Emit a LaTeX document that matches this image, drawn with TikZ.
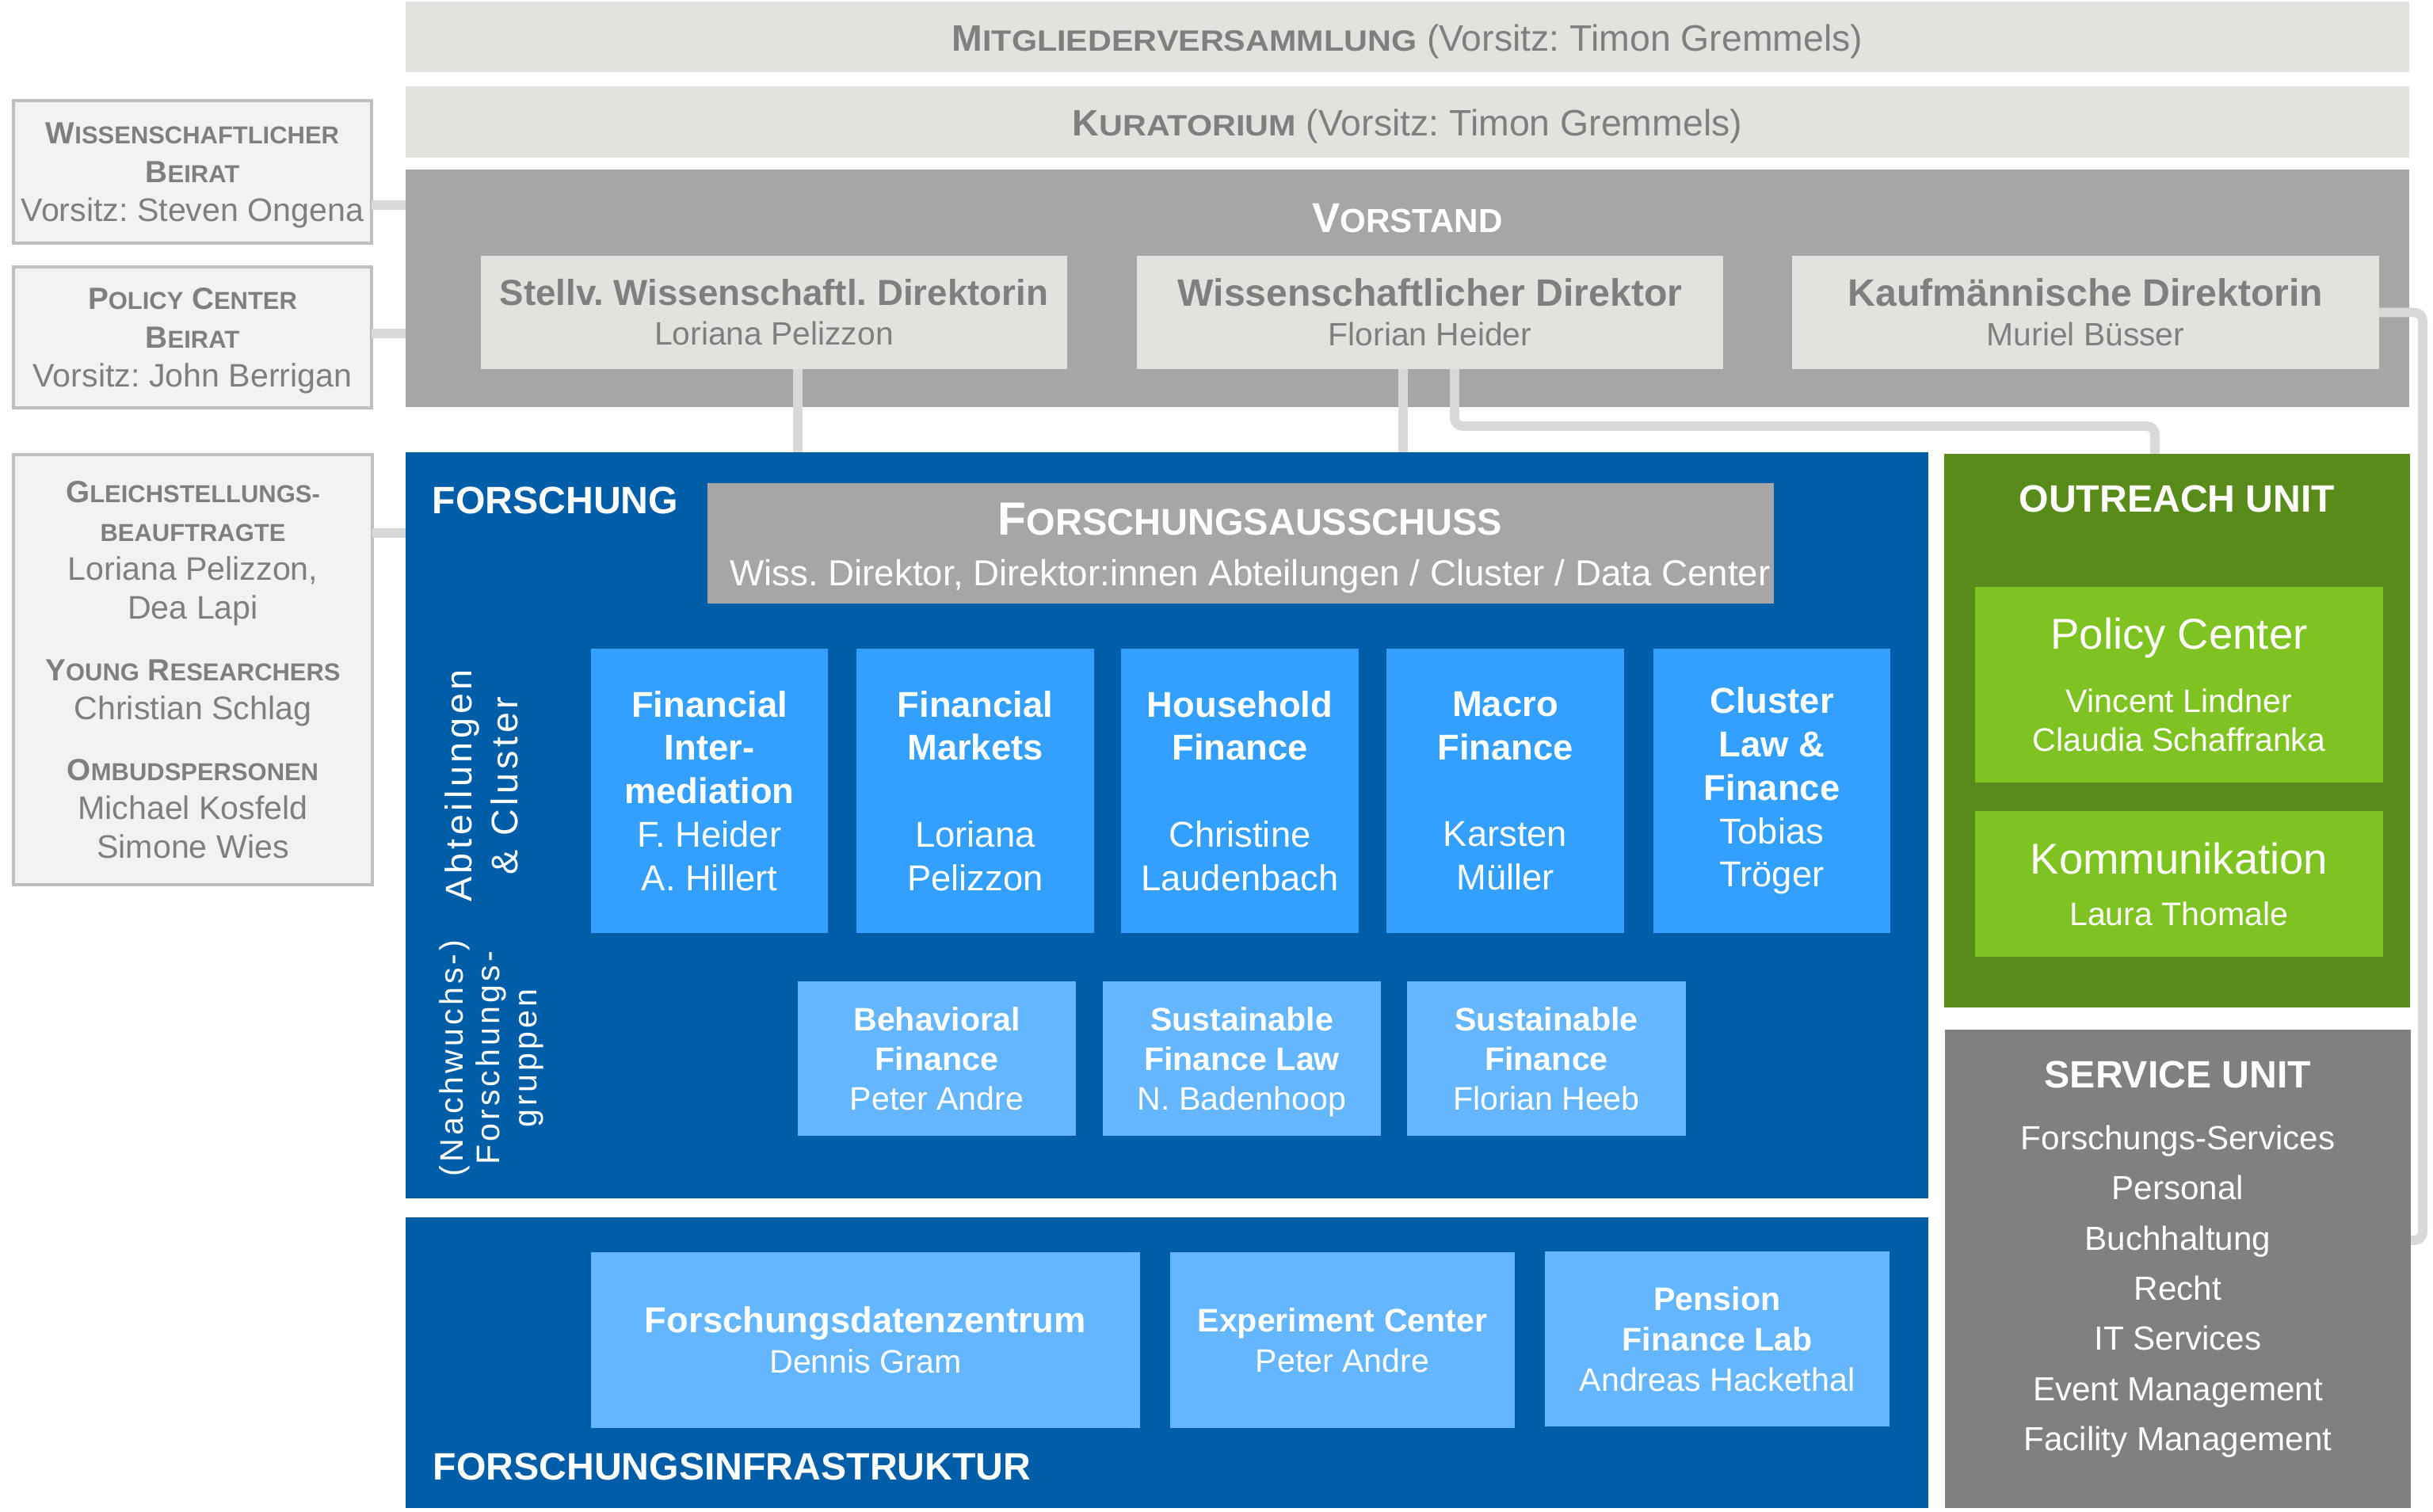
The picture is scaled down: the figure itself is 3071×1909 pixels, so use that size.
\documentclass[tikz,border=0pt]{standalone}
\usepackage{fontspec}
\setmainfont{Liberation Sans}
\usepackage{graphicx}
\frenchspacing

\definecolor{barfill}{HTML}{E3E2DE}
\definecolor{vorfill}{HTML}{A6A6A6}
\definecolor{txtgray}{HTML}{7F7F7F}
\definecolor{sidefill}{HTML}{F2F2F2}
\definecolor{sidedraw}{HTML}{BFBFBF}
\definecolor{linkgray}{HTML}{D9D9D9}
\definecolor{fblue}{HTML}{005EA8}
\definecolor{deptblue}{HTML}{33A0FF}
\definecolor{grpblue}{HTML}{63B6FF}
\definecolor{outgreen}{HTML}{588B1A}
\definecolor{boxgreen}{HTML}{7EC322}
\definecolor{servgray}{HTML}{808080}

\newcommand\setfs[2]{\fontsize{#1}{#2}\selectfont}
\newcommand\fakesc[2]{#1\scalebox{0.8}{#2}}
\newcommand\barsc[2]{#1\scalebox{0.89}[0.8]{#2}}
\newcommand\sidehead[1]{{\setfs{11}{13.9}\bfseries #1}}

\begin{document}
\begin{tikzpicture}[x=0.01cm, y=-0.01cm,
	box/.style={rectangle, inner sep=0pt, outer sep=0pt, align=center},
	bar/.style={box, fill=barfill, text=txtgray, minimum width=25.27cm, text height=10pt, text depth=0pt, font=\setfs{13.2}{16}},
	dirbox/.style={box, fill=barfill, text=txtgray, minimum width=7.40cm, minimum height=1.43cm, font=\setfs{13.7}{14.2}},
	side/.style={box, fill=sidefill, draw=sidedraw, line width=1.1pt, text=txtgray, minimum width=4.52cm, font=\setfs{11.7}{13.9}},
	dept/.style={box, fill=deptblue, text=white, minimum width=2.99cm, minimum height=3.59cm, font=\setfs{12.9}{15.6}},
	grp/.style={box, fill=grpblue, text=white, minimum width=3.51cm, minimum height=1.95cm, text depth=0pt, font=\setfs{11.7}{14.2}},
	infra/.style={box, fill=grpblue, text=white, minimum height=2.21cm, font=\setfs{11.7}{14.5}},
	unit/.style={box, fill=#1, minimum width=5.88cm},
	greenbox/.style={box, fill=boxgreen, text=white, minimum width=5.15cm, font=\setfs{11.7}{13.9}},
	head/.style={text=white, inner sep=0pt, font=\setfs{13.7}{16}\bfseries},
	rot/.style={text=white, inner sep=0pt, align=center, rotate=90},
	link/.style={draw=linkgray, line width=3.4pt}
	]
	\useasboundingbox (0,0) rectangle (3071,1909);

	\node[bar, minimum height=0.89cm] (mv) at (1776.5,46.5) {\textbf{\barsc{M}{ITGLIEDERVERSAMMLUNG}} (Vorsitz: Timon Gremmels)};
	\node[bar, minimum height=0.90cm] (kur) at (1776.5,154) {\textbf{\barsc{K}{URATORIUM}} (Vorsitz: Timon Gremmels)};

	\node[unit=vorfill, minimum width=25.27cm, minimum height=3.00cm] (vor) at (1776.5,364) {};
	\node[head, font=\setfs{15}{18}\bfseries, anchor=base] (vortitle) at (1776.5,293) {\fakesc{V}{ORSTAND}};
	\node[dirbox] (stv) at (977,394.5) {{\setfs{13}{14.2}\bfseries Stellv. Wissenschaftl. Direktorin}\\{\setfs{11.6}{14.2}Loriana Pelizzon}};
	\node[dirbox] (wdir) at (1805,394.5) {\textbf{Wissenschaftlicher Direktor}\\{\setfs{11.6}{14.2}Florian Heider}};
	\node[dirbox] (kdir) at (2632.5,394.5) {\textbf{Kaufmännische Direktorin}\\{\setfs{11.6}{14.2}Muriel Büsser}};

	\node[side, minimum height=1.80cm, text depth=0pt] (wb) at (243,217) {\sidehead{\fakesc{W}{ISSENSCHAFTLICHER}}\\\sidehead{\fakesc{B}{EIRAT}}\\Vorsitz: Steven Ongena};
	\node[side, minimum height=1.78cm, text depth=0pt] (pb) at (243,426) {\sidehead{\fakesc{P}{OLICY} \fakesc{C}{ENTER}}\\\sidehead{\fakesc{B}{EIRAT}}\\Vorsitz: John Berrigan};
	\node[side, minimum height=5.43cm] (gb) at (243.5,845.5) {\sidehead{\fakesc{G}{LEICHSTELLUNGS-}}\\\sidehead{\scalebox{0.8}{BEAUFTRAGTE}}\\Loriana Pelizzon,\\Dea Lapi\\[8.4pt]\sidehead{\fakesc{Y}{OUNG} \fakesc{R}{ESEARCHERS}}\\Christian Schlag\\[8pt]\sidehead{\fakesc{O}{MBUDSPERSONEN}}\\Michael Kosfeld\\Simone Wies};

	\node[unit=fblue, minimum width=19.20cm, minimum height=9.42cm] (fo) at (1473,1042) {};
	\node[head, anchor=base west] (fotitle) at (545,648) {FORSCHUNG};
	\node[box, fill=vorfill, minimum width=13.46cm, minimum height=1.52cm] (fa) at (1566,686) {};
	\node[box, text=white, font=\setfs{13}{18.2}] (fatext) at (1578,692) {{\setfs{16.7}{20}\bfseries\fakesc{F}{ORSCHUNGSAUSSCHUSS}}\\Wiss. Direktor, Direktor:innen Abteilungen / Cluster / Data Center};
	\node[rot, font=\setfs{13.3}{16.5}\addfontfeature{LetterSpace=10}] (abt) at (608,992) {Abteilungen\\\& Cluster};
	\node[rot, font=\setfs{11.7}{13.2}\addfontfeature{LetterSpace=10}] (nfg) at (620,1336) {(Nachwuchs-)\\Forschungs-\\gruppen};

	\node[dept] (fi) at (895.5,998.5) {\textbf{Financial}\\\textbf{Inter-}\\\textbf{mediation}\\F. Heider\\A. Hillert};
	\node[dept] (fm) at (1231,998.5) {\textbf{Financial}\\\textbf{Markets}\\[15.6pt]Loriana\\Pelizzon};
	\node[dept] (hf) at (1565,998.5) {\textbf{Household}\\\textbf{Finance}\\[15.6pt]Christine\\Laudenbach};
	\node[dept] (maf) at (1900,998.5) {\textbf{Macro}\\\textbf{Finance}\\[15.6pt]Karsten\\Müller};
	\node[dept] (lf) at (2236.5,998.5) {\textbf{Cluster}\\\textbf{Law \&}\\\textbf{Finance}\\Tobias\\Tröger};

	\node[grp] (bf) at (1182.5,1336.5) {\textbf{Behavioral}\\\textbf{Finance}\\Peter Andre};
	\node[grp] (sfl) at (1567.5,1336.5) {\textbf{Sustainable}\\\textbf{Finance Law}\\N. Badenhoop};
	\node[grp] (sf) at (1952,1336.5) {\textbf{Sustainable}\\\textbf{Finance}\\Florian Heeb};

	\node[unit=fblue, minimum width=19.20cm, minimum height=3.67cm] (inf) at (1473,1720.5) {};
	\node[head, anchor=base west] (inftitle) at (546,1868) {FORSCHUNGSINFRASTRUKTUR};
	\node[infra, minimum width=6.93cm] (fdz) at (1092.5,1692) {{\setfs{12.9}{14.5}\bfseries Forschungsdatenzentrum}\\Dennis Gram};
	\node[infra, minimum width=4.35cm] (ec) at (1694.5,1692) {\textbf{Experiment Center}\\Peter Andre};
	\node[infra, minimum width=4.35cm] (pfl) at (2167.5,1690.5) {\textbf{Pension}\\\textbf{Finance Lab}\\Andreas Hackethal};

	\node[unit=outgreen, minimum height=6.99cm] (ou) at (2748,922.5) {};
	\node[head, anchor=base] (outitle) at (2748,646) {OUTREACH UNIT};
	\node[greenbox, minimum height=2.47cm] (pc) at (2750.5,864.5) {{\setfs{15.5}{18}Policy Center}\\[9pt]Vincent Lindner\\Claudia Schaffranka};
	\node[greenbox, minimum height=1.84cm] (kom) at (2750.5,1116) {{\setfs{15.5}{18}Kommunikation}\\[4.6pt]Laura Thomale};

	\node[unit=servgray, minimum height=6.04cm] (su) at (2749,1602) {};
	\node[text=white, inner sep=0pt, align=center, font=\setfs{12}{18}] (sulist) at (2749,1590) {{\setfs{13.7}{16}\bfseries SERVICE UNIT}\\[4.2pt]Forschungs-Services\\Personal\\Buchhaltung\\Recht\\IT Services\\Event Management\\Facility Management};

	\coordinate (wbY) at (0,259);
	\coordinate (pbY) at (0,421);
	\coordinate (gbY) at (0,673);
	\coordinate (stvX) at (1007,0);
	\coordinate (wdX) at (1771,0);
	\coordinate (ouX) at (1836,0);
	\coordinate (ouTurn) at (2720,538);
	\coordinate (kdX) at (3058,0);
	\coordinate (suY) at (0,1566);
	\draw[link] (wb.east |- wbY) -- (vor.west |- wbY);
	\draw[link] (pb.east |- pbY) -- (vor.west |- pbY);
	\draw[link] (gb.east |- gbY) -- (fo.west |- gbY);
	\draw[link] (stv.south -| stvX) -- (fo.north -| stvX);
	\draw[link] (wdir.south -| wdX) -- (fo.north -| wdX);
	\draw[link, rounded corners=3pt] (wdir.south -| ouX) |- (ouTurn) -- (ou.north -| ouTurn);
	\draw[link, rounded corners=3pt] (kdir.east) -| (kdX |- suY) -- (su.east |- suY);
\end{tikzpicture}
\end{document}
